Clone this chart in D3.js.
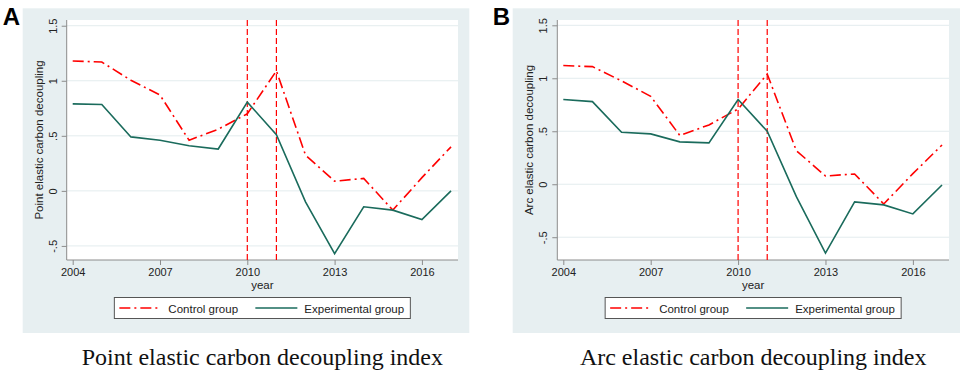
<!DOCTYPE html>
<html>
<head>
<meta charset="utf-8">
<script src="https://cdn.jsdelivr.net/npm/d3@7"></script>
<style>
  body { margin: 0; background: #fff; }
  svg { display: block; }
</style>
</head>
<body>
<svg id="chart" width="962" height="373"></svg>
<script>
// years (x axis)
const years = [2004, 2005, 2006, 2007, 2008, 2009, 2010, 2011, 2012, 2013, 2014, 2015, 2016, 2017];
const xTicks = [2004, 2007, 2010, 2013, 2016];
const yTicks = [-0.5, 0, 0.5, 1, 1.5];
const yTickLabels = ["-.5", "0", ".5", "1", "1.5"];
const policyYears = [2010, 2011];
const seriesNames = ["Control group", "Experimental group"];

// panel A: point elastic
const pointControl = [1.18, 1.17, 1.005, 0.87, 0.46, 0.56, 0.70, 1.09, 0.325, 0.088, 0.113, -0.175, 0.12, 0.40];
const pointExperimental = [0.79, 0.785, 0.49, 0.46, 0.41, 0.38, 0.806, 0.51, -0.10, -0.57, -0.145, -0.175, -0.26, 0.0];

// panel B: arc elastic
const arcControl = [1.12, 1.11, 0.975, 0.83, 0.46, 0.56, 0.71, 1.04, 0.317, 0.078, 0.097, -0.186, 0.10, 0.37];
const arcExperimental = [0.80, 0.78, 0.49, 0.475, 0.40, 0.39, 0.80, 0.50, -0.117, -0.65, -0.167, -0.195, -0.28, -0.007];

const svg = d3.select("#chart");
const red = "#ff0000";
const green = "#1a6b5c";
const axisGray = "#8c8c8c";
const sans = "Liberation Sans, Arial, sans-serif";

function drawPanel(opt) {
    const g = svg.append("g");

    // fondo del panel
    g.append("rect")
        .attr("x", opt.bg[0]).attr("y", 8.3)
        .attr("width", opt.bg[1] - opt.bg[0]).attr("height", 333 - 8.3)
        .attr("fill", "#e7eff1");

    const x = d3.scaleLinear().domain([2003.794, 2017.24]).range([opt.left, opt.right]);
    const y = d3.scaleLinear().domain(opt.yDomain).range([260, 20]);

    // area blanca
    g.append("rect")
        .attr("x", opt.left).attr("y", 20)
        .attr("width", opt.right - opt.left).attr("height", 240)
        .attr("fill", "#fff");

    // lineas de rejilla
    g.selectAll(".grid").data(yTicks).enter().append("line")
        .attr("x1", opt.left).attr("x2", opt.right)
        .attr("y1", d => y(d)).attr("y2", d => y(d))
        .attr("stroke", "#e3ecee").attr("stroke-width", 1);

    // eje Y
    const yAxis = g.append("g")
        .attr("transform", `translate(${opt.left},0)`)
        .call(d3.axisLeft(y).tickValues(yTicks).tickSize(5).tickFormat((d, i) => yTickLabels[i]));
    yAxis.select(".domain").attr("stroke", axisGray).attr("d", `M0,${y.range()[1]}V${y.range()[0]}`);
    yAxis.selectAll(".tick line").attr("stroke", axisGray);
    yAxis.selectAll(".tick text")
        .attr("font-family", sans)
        .attr("font-size", 11).attr("fill", "#222")
        .attr("x", 0).attr("dy", 0)
        .attr("text-anchor", "middle")
        .attr("transform", "translate(-10,0) rotate(-90)");

    // eje X
    const xAxis = g.append("g")
        .attr("transform", "translate(0,260)")
        .call(d3.axisBottom(x).tickValues(xTicks).tickSize(5).tickFormat(d3.format("d")));
    xAxis.select(".domain").attr("stroke", axisGray).attr("d", `M${opt.left},0H${opt.right}`);
    xAxis.selectAll(".tick line").attr("stroke", axisGray);
    xAxis.selectAll(".tick text")
        .attr("font-family", sans)
        .attr("font-size", 11).attr("fill", "#222")
        .attr("y", 8);

    const cx = (opt.left + opt.right) / 2;

    g.append("text")
        .attr("x", cx).attr("y", 289)
        .attr("text-anchor", "middle")
        .attr("font-family", sans)
        .attr("font-size", 11.5).attr("fill", "#222")
        .text("year");

    g.append("text")
        .attr("transform", `translate(${opt.left - 24},140) rotate(-90)`)
        .attr("text-anchor", "middle")
        .attr("font-family", sans)
        .attr("font-size", 11.5).attr("fill", "#222")
        .text(opt.yTitle);

    // lineas verticales de politica
    g.selectAll(".vline").data(policyYears).enter().append("line")
        .attr("x1", d => x(d)).attr("x2", d => x(d))
        .attr("y1", 20).attr("y2", 260)
        .attr("stroke", red).attr("stroke-width", 1.2)
        .attr("stroke-dasharray", "6,3");

    const line = d3.line().x((d, i) => x(years[i])).y(d => y(d));

    g.append("path").datum(opt.control)
        .attr("d", line).attr("fill", "none")
        .attr("stroke", red).attr("stroke-width", 1.6)
        .attr("stroke-dasharray", "11,4,2,4");

    g.append("path").datum(opt.experimental)
        .attr("d", line).attr("fill", "none")
        .attr("stroke", green).attr("stroke-width", 1.6);

    // leyenda
    const lx = cx - 148;
    g.append("rect")
        .attr("x", lx).attr("y", 297.5)
        .attr("width", 296).attr("height", 21)
        .attr("fill", "#fff").attr("stroke", "#555").attr("stroke-width", 1);
    g.append("line")
        .attr("x1", lx + 5).attr("x2", lx + 47).attr("y1", 308).attr("y2", 308)
        .attr("stroke", red).attr("stroke-width", 1.6).attr("stroke-dasharray", "11,4,2,4");
    g.append("text")
        .attr("x", lx + 54).attr("y", 312.5)
        .attr("font-family", sans)
        .attr("font-size", 11.5).attr("fill", "#222")
        .text(seriesNames[0]);
    g.append("line")
        .attr("x1", lx + 141).attr("x2", lx + 183).attr("y1", 308).attr("y2", 308)
        .attr("stroke", green).attr("stroke-width", 1.6);
    g.append("text")
        .attr("x", lx + 190).attr("y", 312.5)
        .attr("font-family", sans)
        .attr("font-size", 11.5).attr("fill", "#222")
        .text(seriesNames[1]);

    // titulo inferior
    g.append("text")
        .attr("x", cx).attr("y", 365)
        .attr("text-anchor", "middle")
        .attr("font-family", "Liberation Serif, Times New Roman, serif")
        .attr("font-size", 24).attr("fill", "#111")
        .text(opt.caption);

    // letra del panel
    g.append("text")
        .attr("x", opt.bg[0] - 20).attr("y", 25)
        .attr("font-family", sans)
        .attr("font-size", 24).attr("font-weight", "bold").attr("fill", "#000")
        .text(opt.letter);
}

drawPanel({
    letter: "A", bg: [22.7, 469.3], left: 66.7, right: 458,
    yDomain: [-0.628, 1.552],
    yTitle: "Point elastic carbon decoupling",
    caption: "Point elastic carbon decoupling index",
    control: pointControl, experimental: pointExperimental
});

drawPanel({
    letter: "B", bg: [512.7, 960], left: 557.3, right: 949,
    yDomain: [-0.715, 1.550],
    yTitle: "Arc elastic carbon decoupling",
    caption: "Arc elastic carbon decoupling index",
    control: arcControl, experimental: arcExperimental
});
</script>
</body>
</html>
